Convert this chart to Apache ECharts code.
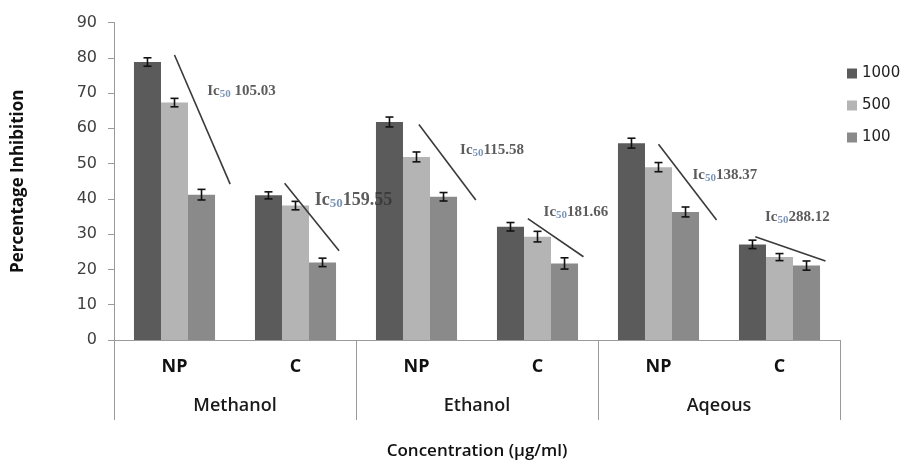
<!DOCTYPE html>
<html><head><meta charset="utf-8">
<script src="https://cdn.jsdelivr.net/npm/echarts@6/dist/echarts.min.js"></script>
<style>html,body{margin:0;padding:0;background:#fff}#c{width:908px;height:467px}</style>
</head><body><div id="c"></div>
<script>
const categories = ['NP','C','NP','C','NP','C'];
const groups = ['Methanol','Ethanol','Aqeous'];
const seriesNames = ['1000','500','100'];
const v1000 = [78.8, 41.0, 61.8, 32.1, 55.8, 27.1];
const v500  = [67.3, 38.1, 51.9, 29.3, 49.0, 23.5];
const v100  = [41.2, 22.0, 40.6, 21.7, 36.3, 21.1];
const e1000 = [1.2, 1.0, 1.4, 1.2, 1.4, 1.2];
const e500  = [1.2, 1.2, 1.4, 1.5, 1.3, 1.0];
const e100  = [1.5, 1.2, 1.2, 1.6, 1.4, 1.3];
const yTicks = [0,10,20,30,40,50,60,70,80,90];
// trend lines (x in category units, y in %)
const trendLines = [
  [[0.50,80.8],[0.96,44.2]],
  [[1.41,44.4],[1.86,25.3]],
  [[2.52,61.1],[2.99,39.7]],
  [[3.42,34.4],[3.88,23.6]],
  [[4.50,55.5],[4.98,34.0]],
  [[5.30,29.3],[5.88,22.4]]
];
const icValues = [' 105.03','159.55','115.58','181.66','138.37','288.12'];
const icPos = [[0.77,70.6],[1.66,39.7],[2.86,53.9],[3.55,36.3],[4.78,46.8],[5.38,34.9]];
const icSizes = [15,18,15,15,15,15];

const colors = ['#5b5b5b','#b4b4b4','#8a8a8a'];
const values = [v1000, v500, v100];
const errs = [e1000, e500, e100];

const chart = echarts.init(document.getElementById('c'));
const series = [];
seriesNames.forEach((n,i)=>{
  series.push({name:n,type:'bar',xAxisIndex:0,data:values[i],barGap:'0%',barCategoryGap:'33%',
    itemStyle:{color:colors[i]},z:2});
});
seriesNames.forEach((n,i)=>{
  series.push({type:'custom',xAxisIndex:0,z:5,silent:true,
    data: values[i].map((v,j)=>[j,v,errs[i][j]]),
    renderItem:function(params,api){
      const cat=api.value(0), v=api.value(1), e=api.value(2);
      const band=api.size([1,0])[0];
      const bw=band*(1-0.33)/3;
      const c=api.coord([cat,v]);
      const x=c[0]+(i-1)*bw;
      const yT=api.coord([cat,v+e])[1], yB=api.coord([cat,v-e])[1];
      const st={stroke:'#111',lineWidth:1.6};
      return {type:'group',children:[
        {type:'line',shape:{x1:x,y1:yT,x2:x,y2:yB},style:st},
        {type:'line',shape:{x1:x-4,y1:yT,x2:x+4,y2:yT},style:st},
        {type:'line',shape:{x1:x-4,y1:yB,x2:x+4,y2:yB},style:st}
      ]};
    }});
});
trendLines.forEach(l=>{
  series.push({type:'line',xAxisIndex:2,data:l,symbol:'none',silent:true,z:6,
    lineStyle:{color:'#3a3a3a',width:1.6}});
});
series.push({type:'scatter',xAxisIndex:2,symbolSize:0,silent:true,z:7,
  data: icPos.map((p,k)=>({value:p,
    label:{show:true,position:'right',distance:0,
      formatter:'{a|Ic}{s|50}{a|'+icValues[k]+'}',
      rich:{a:{fontFamily:'Liberation Serif',fontWeight:'bold',fontSize:icSizes[k],color:'#333'},
            s:{fontFamily:'Liberation Serif',fontWeight:'bold',fontSize:Math.round(icSizes[k]*0.7),color:'#5a7aa8',verticalAlign:'bottom',padding:[Math.round(icSizes[k]*0.45),0,0,0]}}}}))
});

chart.setOption({
  animation:false,
  grid:{left:114,right:68,top:22.5,bottom:127,containLabel:false},
  legend:{data:seriesNames,orient:'vertical',left:842,top:61,itemWidth:10,itemHeight:10,itemGap:17,icon:'rect',
    textStyle:{fontFamily:'DejaVu Sans',fontSize:15,color:'#222'}},
  xAxis:[
    {type:'category',data:categories,position:'bottom',
      axisLine:{show:true,lineStyle:{color:'#9a9a9a',width:1}},axisTick:{show:false},
      axisLabel:{margin:18,fontFamily:'Open Sans',fontWeight:'bold',fontSize:18,color:'#111'},
      name:'Concentration (µg/ml)',nameLocation:'middle',nameGap:103,
      nameTextStyle:{fontFamily:'Open Sans',fontWeight:600,fontSize:17,color:'#111'}},
    {type:'category',data:groups,position:'bottom',
      axisLine:{show:false},axisTick:{show:true,length:80,inside:false,lineStyle:{color:'#9a9a9a'}},
      axisLabel:{margin:57,fontFamily:'Open Sans',fontWeight:600,fontSize:18,color:'#1a1a1a'}},
    {type:'value',min:0,max:6,show:false}
  ],
  yAxis:{type:'value',min:0,max:90,interval:10,
    axisLine:{show:true,lineStyle:{color:'#9a9a9a'}},axisTick:{show:true,length:6,lineStyle:{color:'#9a9a9a'}},
    splitLine:{show:false},
    axisLabel:{margin:17,fontFamily:'DejaVu Sans',fontSize:16,color:'#404040',
      formatter:v=>yTicks.includes(v)?String(v):''},
    name:'Percentage Inhibition',nameLocation:'middle',nameGap:87,
    nameTextStyle:{fontFamily:'Open Sans',fontWeight:'bold',fontSize:17,color:'#111'}},
  series:series
});
</script></body></html>
